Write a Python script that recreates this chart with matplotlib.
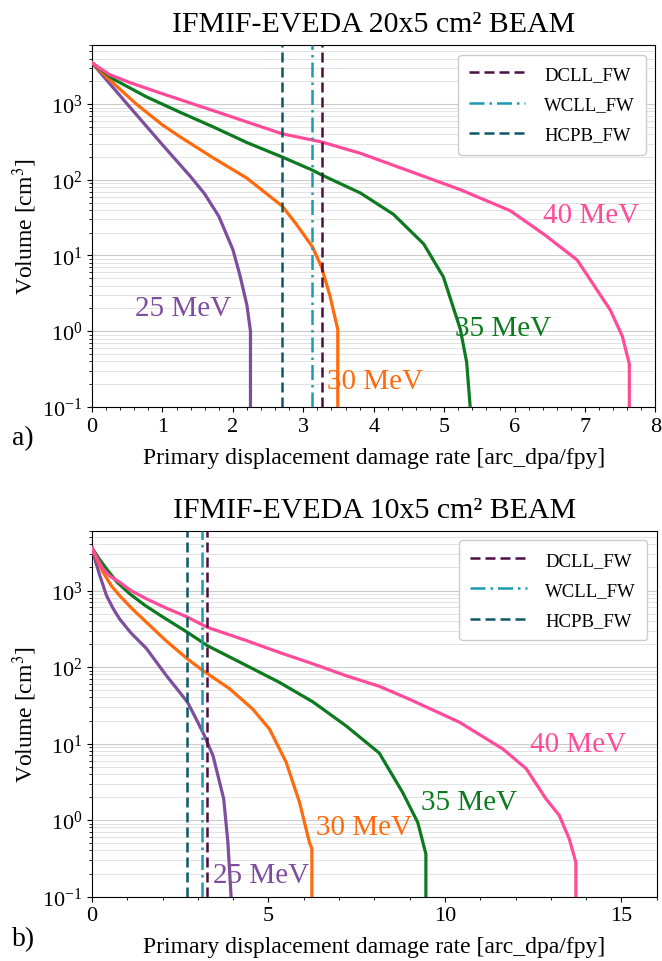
import matplotlib
matplotlib.use("Agg")
from matplotlib import pyplot as plt
from matplotlib.ticker import AutoMinorLocator

plt.rcParams['font.family'] = ['Liberation Serif', 'DejaVu Serif']
plt.rcParams['mathtext.fontset'] = 'stix'

# 20x5 cm2 beam: primary damage rate vs volume for each beam energy
a_x25 = [0, 0.15, 0.5, 1.0, 1.4, 1.6, 1.8, 2.0, 2.1, 2.2, 2.25, 2.25]
a_y25 = [3500, 2400, 1000, 290, 110, 65, 33, 12, 5.5, 2.2, 1.0, 0.01]
a_x30 = [0, 0.3, 0.63, 1.0, 1.25, 1.72, 2.2, 2.7, 2.9, 3.13, 3.26, 3.38, 3.49, 3.49]
a_y30 = [3500, 1900, 1000, 530, 370, 195, 105, 45, 26, 13, 7, 2.9, 1.05, 0.01]
a_x35 = [0, 0.3, 0.77, 1.25, 1.72, 2.2, 2.7, 3.13, 3.26, 3.81, 4.28, 4.71, 4.99, 5.23, 5.32, 5.37, 5.37]
a_y35 = [3500, 2150, 1250, 780, 500, 310, 200, 134, 116, 67, 35, 14.2, 5.2, 1.06, 0.39, 0.1, 0.01]
a_x40 = [0, 0.25, 0.54, 1.01, 1.72, 2.7, 3.26, 3.81, 4.52, 5.23, 5.94, 6.42, 6.89, 7.36, 7.53, 7.63, 7.63]
a_y40 = [3500, 2450, 1920, 1360, 820, 405, 316, 224, 129, 74, 39, 19, 8.7, 1.9, 0.86, 0.37, 0.01]

# 10x5 cm2 beam
b_x25 = [0, 0.1, 0.22, 0.41, 0.6, 0.78, 1.1, 1.54, 2.1, 2.7, 2.95, 3.16, 3.43, 3.73, 3.85, 3.94, 3.94]
b_y25 = [3600, 2400, 1570, 860, 580, 425, 280, 175, 78, 35, 21, 13.4, 6.9, 1.9, 0.51, 0.1, 0.01]
b_x30 = [0, 0.15, 0.31, 0.55, 0.78, 1.1, 1.54, 2.1, 2.7, 3.14, 3.9, 4.56, 5.03, 5.5, 5.88, 6.16, 6.23, 6.23]
b_y30 = [3600, 2500, 1740, 1150, 860, 600, 385, 220, 128, 90, 52, 28, 15.4, 5.7, 1.7, 0.51, 0.42, 0.01]
b_x35 = [0, 0.2, 0.41, 0.7, 1.07, 1.5, 2.01, 2.7, 3.27, 4.37, 5.31, 6.26, 7.2, 8.14, 8.8, 9.23, 9.46, 9.46]
b_y35 = [3600, 2600, 1920, 1300, 905, 640, 450, 285, 190, 105, 63, 35, 17, 7.5, 2.3, 0.93, 0.36, 0.01]
b_x40 = [0, 0.15, 0.31, 0.5, 0.78, 1.1, 1.54, 2.1, 2.7, 3.27, 4.37, 5.31, 6.26, 7.2, 8.14, 8.99, 10.41, 11.64, 12.3, 12.86, 13.24, 13.52, 13.71, 13.71]
b_y40 = [3600, 2600, 1920, 1550, 1285, 1000, 780, 590, 450, 330, 222, 155, 110, 77, 56, 38, 19, 8.5, 4.7, 1.9, 1.15, 0.57, 0.28, 0.01]

energies = ["25 MeV", "30 MeV", "35 MeV", "40 MeV"]
colors = ["#7d4e9d", "#ff6a0d", "#0d7a1f", "#ff4b99"]

# first wall damage of the blanket concepts
fw_names = ["DCLL_FW", "WCLL_FW", "HCPB_FW"]
fw_values = [3.26, 3.13, 2.70]
fw_colors = ["#4d0f42", "#1b9bb3", "#0c5866"]
fw_styles = [(0, (4, 2)), (0, (6, 2, 1, 2)), (0, (4, 2))]

# label positions (x, y) for each energy
a_lab = [(1.29, 2.0), (4.02, 0.22), (5.84, 1.1), (7.08, 34)]
b_lab = [(4.80, 0.19), (7.72, 0.81), (10.69, 1.74), (13.77, 10)]

fig = plt.figure(figsize=(6.62, 9.62), dpi=100)
ax1 = fig.add_axes([0.139, 0.576, 0.851, 0.376])
ax2 = fig.add_axes([0.139, 0.067, 0.853, 0.380])

panels = [
    (ax1, [(a_x25, a_y25), (a_x30, a_y30), (a_x35, a_y35), (a_x40, a_y40)], a_lab,
     "IFMIF-EVEDA 20x5 cm² BEAM", 8, [0, 1, 2, 3, 4, 5, 6, 7, 8]),
    (ax2, [(b_x25, b_y25), (b_x30, b_y30), (b_x35, b_y35), (b_x40, b_y40)], b_lab,
     "IFMIF-EVEDA 10x5 cm² BEAM", 16, [0, 5, 10, 15]),
]

for ax, curves, labs, title, xmax, xt in panels:
    for (xs, ys), c, e, (lx, ly) in zip(curves, colors, energies, labs):
        ax.plot(xs, ys, color=c, lw=2.3, zorder=3)
        ax.text(lx, ly, e, color=c, fontsize=21, ha='center', va='center', zorder=4)
    for n, v, c, s in zip(fw_names, fw_values, fw_colors, fw_styles):
        ax.axvline(v, color=c, ls=s, lw=1.8, label=n, zorder=3)
    ax.set_yscale('log')
    ax.set_ylim(0.1, 6000)
    ax.set_xlim(0, xmax)
    ax.set_xticks(xt)
    ax.xaxis.set_minor_locator(AutoMinorLocator(5))
    ax.grid(True, which='major', axis='y', color='#cccccc', lw=0.8)
    ax.grid(True, which='minor', axis='y', color='#dddddd', lw=0.6)
    ax.tick_params(labelsize=16, direction='out')
    ax.set_title(title, fontsize=21.5, pad=10)
    ax.set_xlabel("Primary displacement damage rate [arc_dpa/fpy]", fontsize=17, labelpad=8)
    ax.set_ylabel("Volume [cm$^3$]", fontsize=17, labelpad=2)
    ax.legend(loc='upper right', fontsize=13.5, framealpha=1, handlelength=3,
              handletextpad=1.0, borderpad=0.6, labelspacing=0.7)

fig.text(0.018, 0.537, "a)", fontsize=20)
fig.text(0.018, 0.016, "b)", fontsize=20)

fig.savefig("out.png", dpi=100)
